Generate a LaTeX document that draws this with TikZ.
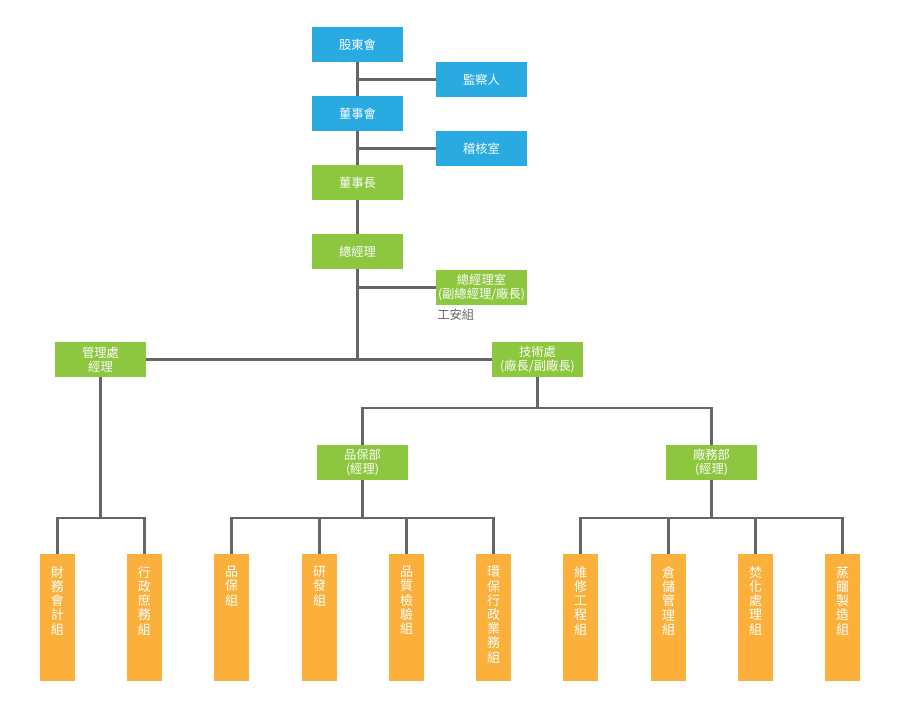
\documentclass[tikz,border=0pt]{standalone}
\usepackage{fontspec}
\setmainfont{Noto Sans CJK TC}
\usepackage{tikz}

\definecolor{boxblue}{HTML}{29ABE2}
\definecolor{boxgreen}{HTML}{8DC63F}
\definecolor{boxorange}{HTML}{FBB03B}
\definecolor{linegray}{HTML}{666666}

\tikzset{
	unit/.style={minimum width=1.82cm, minimum height=0.7cm, inner sep=0pt,
		align=center, text=white, font=\fontsize{7}{8.3}\selectfont},
	blueunit/.style={unit, fill=boxblue},
	greenunit/.style={unit, fill=boxgreen},
	leaf/.style={fill=boxorange, minimum width=0.7cm, minimum height=2.54cm, inner sep=0pt},
	leaftxt/.style={anchor=north, align=center, inner sep=0pt, text=white,
		font=\fontsize{7.4}{8.1}\selectfont},
	link/.style={draw=linegray, line width=1.25pt}
}

\begin{document}
\begin{tikzpicture}[x=0.02cm, y=-0.02cm]

	\useasboundingbox (0,0) rectangle (900,713);

	% top of the chart
	\node[blueunit] (gdh) at (357.5,44.5) {股東會};
	\node[blueunit] (jcr) at (481.5,79.5) {監察人};
	\node[blueunit] (dsh) at (357.5,113.5) {董事會};
	\node[blueunit] (jhs) at (481.5,148.5) {稽核室};
	\node[greenunit] (dsz) at (357.5,182.5) {董事長};
	\node[greenunit] (zjl) at (357.5,251.5) {總經理};
	\node[greenunit] (zjs) at (481.5,287.5) {總經理室\\(副總經理/廠長)};
	\node[anchor=west, inner sep=0pt, text=linegray, font=\fontsize{7}{8.3}\selectfont]
		(gaz) at (437,315) {工安組};

	% departments
	\node[greenunit] (glc) at (100.5,359.5) {管理處\\經理};
	\node[greenunit] (jsc) at (537.5,359.5) {技術處\\(廠長/副廠長)};
	\node[greenunit] (pbb) at (362.5,462.5) {品保部\\(經理)};
	\node[greenunit] (cwb) at (711.5,462.5) {廠務部\\(經理)};

	\coordinate (zjd) at (357.5,359.5);
	\coordinate (jsd) at (537.5,408);
	\coordinate (gld) at (100.5,518);
	\coordinate (pbd) at (362.5,518);
	\coordinate (cwd) at (711.5,518);

	% groups
	\foreach \i/\x/\t in {1/57.5/{財\\務\\會\\計\\組}, 2/144.5/{行\\政\\庶\\務\\組},
		3/231.5/{品\\保\\組}, 4/319.5/{研\\發\\組}, 5/406.5/{品\\質\\檢\\驗\\組},
		6/493.5/{環\\保\\行\\政\\業\\務\\組}, 7/580.5/{維\\修\\工\\程\\組},
		8/668.5/{倉\\儲\\管\\理\\組}, 9/755.5/{焚\\化\\處\\理\\組},
		10/842.5/{蒸\\餾\\製\\造\\組}}
	{
		\node[leaf] (g\i) at (\x,617.5) {};
		\node[leaftxt] (t\i) at (\x,566) {\t};
	}

	% connectors
	\draw[link] (gdh) -- (dsh);
	\draw[link] (jcr) -- (jcr.west -| gdh);
	\draw[link] (dsh) -- (dsz);
	\draw[link] (jhs) -- (jhs.west -| dsh);
	\draw[link] (dsz) -- (zjl);
	\draw[link] (zjl) -- (zjd);
	\draw[link] (zjs) -- (zjs.west -| zjl);
	\draw[link] (glc) -- (jsc);

	\draw[link] (jsc) -- (jsd);
	\draw[link] (pbb) |- (jsd) -| (cwb);

	\draw[link] (glc) -- (gld);
	\draw[link] (g1) |- (gld) -| (g2);

	\draw[link] (pbb) -- (pbd);
	\draw[link] (g3) |- (pbd) -| (g6);
	\draw[link] (g4) -- (g4 |- pbd);
	\draw[link] (g5) -- (g5 |- pbd);

	\draw[link] (cwb) -- (cwd);
	\draw[link] (g7) |- (cwd) -| (g10);
	\draw[link] (g8) -- (g8 |- cwd);
	\draw[link] (g9) -- (g9 |- cwd);

\end{tikzpicture}
\end{document}
